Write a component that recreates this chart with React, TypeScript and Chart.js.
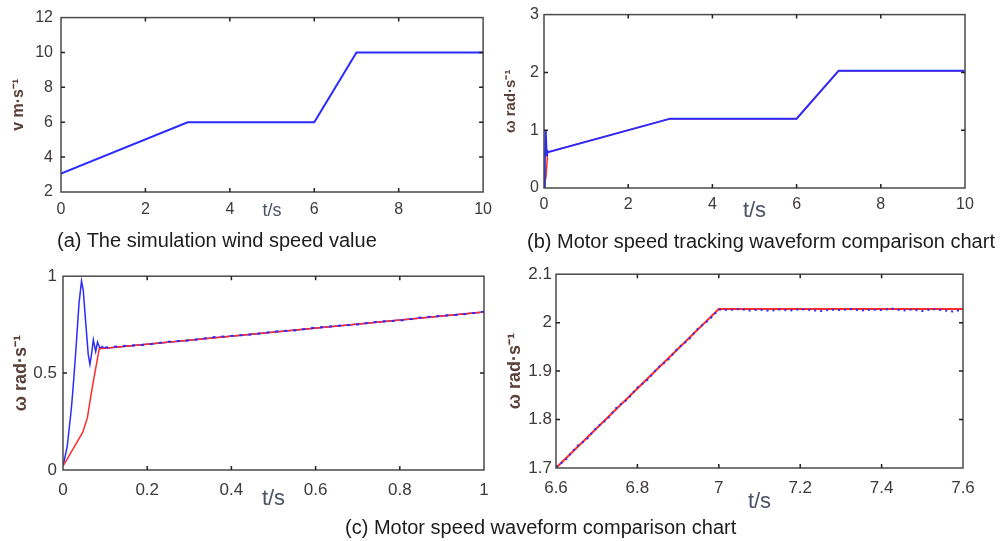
import React, { useEffect, useRef } from "react";
import { Chart, registerables } from "chart.js";
Chart.register(...registerables);

// ---------- data ----------
// (a) wind speed
const windT = [0, 3, 6, 7, 10];
const windV = [3.05, 6, 6, 10, 10];

// (b) motor speed tracking, full 0..10 s
const bBlueT = [0, 0.02, 0.04, 0.065, 0.08, 0.1, 3, 6, 6.5, 7, 8.5, 10];
const bBlueV = [0, 0.5, 1.0, 0.55, 0.64, 0.62, 1.2, 1.2, 1.615, 2.03, 2.03, 2.03];
const bRedT = [0, 0.047, 0.066, 0.086, 0.1, 3, 6, 7, 10];
const bRedV = [0.02, 0.195, 0.38, 0.62, 0.625, 1.2, 1.2, 2.03, 2.03];

// (c) zoom 0..1 s
const cBlueT = [0, 0.01, 0.02, 0.0245, 0.03, 0.038, 0.044, 0.048, 0.052, 0.06, 0.064, 0.068, 0.072, 0.0776, 0.082, 0.088, 0.092, 0.1, 1];
const cBlueV = [0.02, 0.12, 0.32, 0.44, 0.6, 0.86, 0.975, 0.93, 0.816, 0.595, 0.545, 0.6, 0.672, 0.612, 0.66, 0.626, 0.636, 0.628, 0.815];
const cRedT = [0, 0.047, 0.058, 0.066, 0.074, 0.086, 0.1, 1];
const cRedV = [0.02, 0.195, 0.27, 0.38, 0.48, 0.625, 0.628, 0.815];
const cNoiseT = [0.1, 0.15, 0.2, 0.25, 0.3, 0.35, 0.4, 0.45, 0.5, 0.55, 0.6, 0.65, 0.7, 0.75, 0.8, 0.85, 0.9, 0.95, 1];
const cNoiseV = [0.632, 0.641, 0.647, 0.662, 0.668, 0.684, 0.692, 0.699, 0.714, 0.72, 0.735, 0.744, 0.751, 0.766, 0.771, 0.787, 0.796, 0.803, 0.817];

// (c) zoom 6.6..7.6 s
const dRedT = [6.6, 7.0, 7.6];
const dRedV = [1.7, 2.028, 2.028];
const dBlueT = [6.6, 6.625, 6.65, 6.675, 6.7, 6.725, 6.75, 6.775, 6.8, 6.825, 6.85, 6.875, 6.9, 6.925, 6.95, 6.975, 7.0,
  7.025, 7.05, 7.075, 7.1, 7.125, 7.15, 7.175, 7.2, 7.225, 7.25, 7.275, 7.3, 7.325, 7.35, 7.375, 7.4, 7.425, 7.45, 7.475, 7.5, 7.525, 7.55, 7.575, 7.6];
const dBlueV = [1.702, 1.718, 1.744, 1.759, 1.784, 1.8, 1.826, 1.841, 1.866, 1.882, 1.907, 1.923, 1.948, 1.964, 1.989, 2.005, 2.027,
  2.026, 2.028, 2.025, 2.027, 2.024, 2.027, 2.025, 2.028, 2.026, 2.024, 2.027, 2.026, 2.028, 2.025, 2.027, 2.026, 2.029, 2.025, 2.027, 2.024, 2.028, 2.026, 2.023, 2.027];

// tick / label text
const xTitle = "t/s";
const yTitleWind = "v m·s⁻¹";
const yTitleOmega = "ω rad·s⁻¹";
const captionA = "(a) The simulation wind speed value";
const captionB = "(b) Motor speed tracking waveform comparison chart";
const captionC = "(c) Motor speed waveform comparison chart";

const BLUE = "#2b2bff";
const RED = "#ff2a2a";
const TICK_COLOR = "#3f3838";
const YTITLE_COLOR = "#5a4038";
const XTITLE_COLOR = "#4d5366";
const FONT = "'Liberation Sans', Arial, sans-serif";

const pts = (t: number[], v: number[]) => t.map((x, i) => ({ x, y: v[i] }));

const framePlugin = {
  id: "matlabFrame",
  afterDraw(chart: any) {
    const { ctx, chartArea } = chart;
    const { left, right, top, bottom } = chartArea;
    ctx.save();
    ctx.strokeStyle = "#4a4a4a";
    ctx.lineWidth = 1.5;
    ctx.strokeRect(left, top, right - left, bottom - top);
    ctx.strokeStyle = "#222";
    ctx.lineWidth = 1.5;
    const xs = chart.scales.x;
    const ys = chart.scales.y;
    const L = 4;
    xs.ticks.forEach((t: any) => {
      const p = xs.getPixelForValue(t.value);
      if (Math.abs(p - left) < 2 || Math.abs(p - right) < 2) return;
      ctx.beginPath();
      ctx.moveTo(p, bottom);
      ctx.lineTo(p, bottom - L);
      ctx.moveTo(p, top);
      ctx.lineTo(p, top + L);
      ctx.stroke();
    });
    ys.ticks.forEach((t: any) => {
      const p = ys.getPixelForValue(t.value);
      if (Math.abs(p - top) < 2 || Math.abs(p - bottom) < 2) return;
      ctx.beginPath();
      ctx.moveTo(left, p);
      ctx.lineTo(left + L, p);
      ctx.moveTo(right, p);
      ctx.lineTo(right - L, p);
      ctx.stroke();
    });
    ctx.restore();
  },
};

type Spec = {
  left: number; top: number; width: number; height: number;
  pad: { top: number; right: number };
  yWidth: number; xHeight: number;
  xMin: number; xMax: number; xStep: number;
  yMin: number; yMax: number; yStep: number;
  tickSize: number; xTickPad: number; yTickPad: number;
  yTitle: string; yTitleSize: number; yTitlePad: number;
  xTitleSize: number; xTitlePad: number;
  datasets: any[];
};

const fmt = (v: any) => String(Math.round(Number(v) * 1000) / 1000);

function Panel({ s }: { s: Spec }) {
  const ref = useRef<HTMLCanvasElement>(null);
  useEffect(() => {
    const chart = new Chart(ref.current as HTMLCanvasElement, {
      type: "line",
      data: { datasets: s.datasets },
      plugins: [framePlugin],
      options: {
        responsive: false,
        animation: false,
        layout: { padding: { top: s.pad.top, right: s.pad.right, left: 0, bottom: 0 } },
        elements: { point: { radius: 0 }, line: { tension: 0 } },
        plugins: { legend: { display: false }, tooltip: { enabled: false } },
        scales: {
          x: {
            type: "linear",
            min: s.xMin, max: s.xMax,
            grid: { display: false, drawTicks: false },
            border: { display: false },
            ticks: { stepSize: s.xStep, color: TICK_COLOR, font: { family: FONT, size: s.tickSize }, padding: s.xTickPad, maxRotation: 0, autoSkip: false, callback: fmt },
            title: { display: true, text: xTitle, color: XTITLE_COLOR, font: { family: FONT, size: s.xTitleSize }, padding: { top: 0, bottom: s.xTitlePad } },
            afterFit: (sc: any) => { sc.height = s.xHeight; },
          },
          y: {
            type: "linear",
            min: s.yMin, max: s.yMax,
            grid: { display: false, drawTicks: false },
            border: { display: false },
            ticks: { stepSize: s.yStep, color: TICK_COLOR, font: { family: FONT, size: s.tickSize }, padding: s.yTickPad, autoSkip: false, callback: fmt },
            title: { display: true, text: s.yTitle, color: YTITLE_COLOR, font: { family: FONT, size: s.yTitleSize, weight: "bold" }, padding: { top: s.yTitlePad, bottom: 0 } },
            afterFit: (sc: any) => { sc.width = s.yWidth; },
          },
        },
      } as any,
    });
    return () => chart.destroy();
  }, []);
  return (
    <canvas
      ref={ref}
      width={s.width}
      height={s.height}
      style={{ position: "absolute", left: s.left, top: s.top, width: s.width, height: s.height }}
    />
  );
}

const line = (data: any[], color: string, width: number, extra: any = {}) => ({
  data, borderColor: color, backgroundColor: color, borderWidth: width, pointRadius: 0, fill: false, ...extra,
});

const specA: Spec = {
  left: 0, top: 0, width: 500, height: 232,
  pad: { top: 16, right: 16 }, yWidth: 61, xHeight: 40,
  xMin: 0, xMax: 10, xStep: 2, yMin: 2, yMax: 12, yStep: 2,
  tickSize: 16, xTickPad: 8, yTickPad: 8,
  yTitle: yTitleWind, yTitleSize: 16, yTitlePad: 9,
  xTitleSize: 18, xTitlePad: 10,
  datasets: [line(pts(windT, windV), BLUE, 2)],
};

const specB: Spec = {
  left: 500, top: 0, width: 507, height: 232,
  pad: { top: 10, right: 42 }, yWidth: 44, xHeight: 44,
  xMin: 0, xMax: 10, xStep: 2, yMin: 0, yMax: 3, yStep: 1,
  tickSize: 16, xTickPad: 7, yTickPad: 5,
  yTitle: yTitleOmega, yTitleSize: 15, yTitlePad: 2,
  xTitleSize: 22, xTitlePad: 8,
  datasets: [line(pts(bBlueT, bBlueV), BLUE, 2), line(pts(bRedT, bRedV), RED, 1.5)],
};

const specC: Spec = {
  left: 0, top: 260, width: 500, height: 260,
  pad: { top: 14, right: 16 }, yWidth: 63, xHeight: 50,
  xMin: 0, xMax: 1, xStep: 0.2, yMin: 0, yMax: 1, yStep: 0.5,
  tickSize: 17, xTickPad: 10, yTickPad: 6,
  yTitle: yTitleOmega, yTitleSize: 18, yTitlePad: 10,
  xTitleSize: 22, xTitlePad: 8,
  datasets: [
    line(pts(cNoiseT, cNoiseV), BLUE, 2, { borderDash: [3, 6] }),
    line(pts(cRedT, cRedV), RED, 1.5),
    line(pts(cBlueT, cBlueV), BLUE, 1.5),
  ],
};

const specD: Spec = {
  left: 500, top: 260, width: 507, height: 260,
  pad: { top: 14, right: 44 }, yWidth: 56, xHeight: 52,
  xMin: 6.6, xMax: 7.6, xStep: 0.2, yMin: 1.7, yMax: 2.1, yStep: 0.1,
  tickSize: 17, xTickPad: 10, yTickPad: 4,
  yTitle: yTitleOmega, yTitleSize: 18, yTitlePad: 4,
  xTitleSize: 22, xTitlePad: 5,
  datasets: [
    line(pts(dBlueT, dBlueV), BLUE, 2, { borderDash: [2, 4] }),
    line(pts(dRedT, dRedV), RED, 2),
  ],
};

const capStyle = (left: number, top: number): React.CSSProperties => ({
  position: "absolute", left, top, fontFamily: "'Liberation Sans', Arial, sans-serif",
  fontSize: 20, lineHeight: "22px", color: "#1c1c1c", whiteSpace: "nowrap",
});

export default function App() {
  return (
    <div style={{ position: "absolute", left: 0, top: 0, width: 1007, height: 541, background: "#fff", overflow: "hidden" }}>
      <Panel s={specA} />
      <Panel s={specB} />
      <Panel s={specC} />
      <Panel s={specD} />
      <div style={capStyle(57, 229)}>{captionA}</div>
      <div style={capStyle(527, 230)}>{captionB}</div>
      <div style={capStyle(345, 516)}>{captionC}</div>
    </div>
  );
}
